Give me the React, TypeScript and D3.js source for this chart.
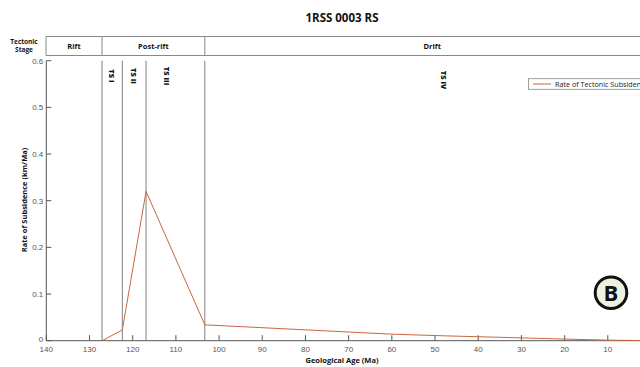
import React from "react";
import * as d3 from "d3";

const ageTicks = [140, 130, 120, 110, 100, 90, 80, 70, 60, 50, 40, 30, 20, 10];
const rateTicks = [0, 0.1, 0.2, 0.3, 0.4, 0.5, 0.6];
const rateTickLabels = ["0", "0.1", "0.2", "0.3", "0.4", "0.5", "0.6"];
const ages = [127.1, 122.4, 116.9, 103.3, 60, 48, 36, 20, 10, 0];
const rates = [0, 0.023, 0.32, 0.034, 0.014, 0.0105, 0.0075, 0.0035, 0.0012, 0];
const boundaryAges = [127.1, 122.4, 116.9, 103.3];
const stageNames = ["Rift", "Post-rift", "Drift"];
const stageBounds = [[141, 127.1], [127.1, 103.3], [103.3, -2]];
const seqNames = ["TS I", "TS II", "TS III", "TS IV"];
const seqAges = [124.8, 119.8, 112.0, 48.0];

export default function App() {
  const W = 640, H = 367;
  const x = d3.scaleLinear().domain([140, 0]).range([46.3, 651]);
  const y = d3.scaleLinear().domain([0, 0.6]).range([340.7, 60.7]);
  const line = d3.line<number>().x((_, i) => x(ages[i])).y((d) => y(d));
  const bold = "'Open Sans', 'Liberation Sans', sans-serif";
  const tickFont = "'Liberation Sans', Arial, sans-serif";
  const hdrTop = 36.5, hdrBot = 55.5;
  const hdrLeft = 46, hdrRight = 660;
  return (
    <svg width={W} height={H} style={{ position: "absolute", left: 0, top: 0, background: "#fff" }}>
      <text x={342} y={22} textAnchor="middle" fontFamily={bold} fontWeight={700} fontSize={11.5} fill="#111">1RSS 0003 RS</text>
      {/* Tectonic stage header */}
      <text x={24} y={43.5} textAnchor="middle" fontFamily={bold} fontWeight={700} fontSize={6.5} fill="#111">Tectonic</text>
      <text x={24} y={51.5} textAnchor="middle" fontFamily={bold} fontWeight={700} fontSize={6.5} fill="#111">Stage</text>
      <line x1={hdrLeft} x2={hdrRight} y1={hdrTop} y2={hdrTop} stroke="#888" strokeWidth={1} />
      <line x1={hdrLeft} x2={hdrRight} y1={hdrBot} y2={hdrBot} stroke="#888" strokeWidth={1} />
      <line x1={hdrLeft} x2={hdrLeft} y1={hdrTop} y2={hdrBot} stroke="#888" strokeWidth={1} />
      {stageNames.map((s, i) => {
        const a = Math.max(x(stageBounds[i][0]), hdrLeft);
        const b = Math.min(x(stageBounds[i][1]), hdrRight);
        return (
          <g key={s}>
            {i > 0 && <line x1={a} x2={a} y1={hdrTop} y2={hdrBot} stroke="#888" strokeWidth={1} />}
            <text x={(a + b) / 2} y={49} textAnchor="middle" fontFamily={bold} fontWeight={700} fontSize={7.5} fill="#111">{s}</text>
          </g>
        );
      })}
      {/* boundary lines */}
      {boundaryAges.map((a, i) => (
        <line key={a} x1={x(a)} x2={x(a)} y1={y(0.6)} y2={y(0)}
          stroke={i === 2 ? "#bbb" : "#808080"} strokeWidth={i === 2 ? 1.8 : 1} />
      ))}
      {seqNames.map((s, i) => (
        <text key={s} transform={`translate(${x(seqAges[i]) - 2.8},${i === 3 ? 80 : 76}) rotate(90)`}
          textAnchor="middle" fontFamily={bold} fontWeight={800} fontSize={7.5} fill="#111">{s}</text>
      ))}
      {/* axes */}
      <line x1={x(140)} x2={x(140)} y1={y(0.6)} y2={y(0)} stroke="#555" strokeWidth={1} />
      <line x1={x(140)} x2={W} y1={y(0)} y2={y(0)} stroke="#555" strokeWidth={1} />
      {rateTicks.map((t, i) => (
        <g key={t}>
          <line x1={x(140)} x2={x(140) + 5} y1={y(t)} y2={y(t)} stroke="#555" strokeWidth={1} />
          <text x={x(140) - 3} y={y(t) + (i === 0 ? 1.5 : 3)} textAnchor="end" fontFamily={tickFont} fontSize={8} fill="#555">{rateTickLabels[i]}</text>
        </g>
      ))}
      {ageTicks.map((t) => (
        <g key={t}>
          <line x1={x(t)} x2={x(t)} y1={y(0)} y2={y(0) - 5.5} stroke="#555" strokeWidth={1} />
          <text x={x(t)} y={351.5} textAnchor="middle" fontFamily={tickFont} fontSize={8} fill="#555">{t}</text>
        </g>
      ))}
      <text x={342} y={363} textAnchor="middle" fontFamily={bold} fontWeight={700} fontSize={7.5} fill="#111">Geological Age (Ma)</text>
      <text transform={`translate(27,200) rotate(-90)`} textAnchor="middle" fontFamily={bold} fontWeight={700} fontSize={7.5} fill="#111">Rate of Subsidence (km/Ma)</text>
      {/* series */}
      <path d={line(rates) || ""} fill="none" stroke="#c8673f" strokeWidth={1} />
      {/* legend */}
      <rect x={528.5} y={78.7} width={130} height={10.6} fill="#fff" stroke="#888" strokeWidth={0.8} />
      <line x1={533} x2={551} y1={84} y2={84} stroke="#c8673f" strokeWidth={1} />
      <text x={555} y={86.8} fontFamily={bold} fontSize={7.2} fill="#222">Rate of Tectonic Subsidence</text>
      {/* B badge */}
      <circle cx={611} cy={292.7} r={15.8} fill="#eff1df" stroke="#111" strokeWidth={3} />
      <text x={611} y={300.5} textAnchor="middle" fontFamily={bold} fontWeight={700} fontSize={22} fill="#111">B</text>
    </svg>
  );
}
